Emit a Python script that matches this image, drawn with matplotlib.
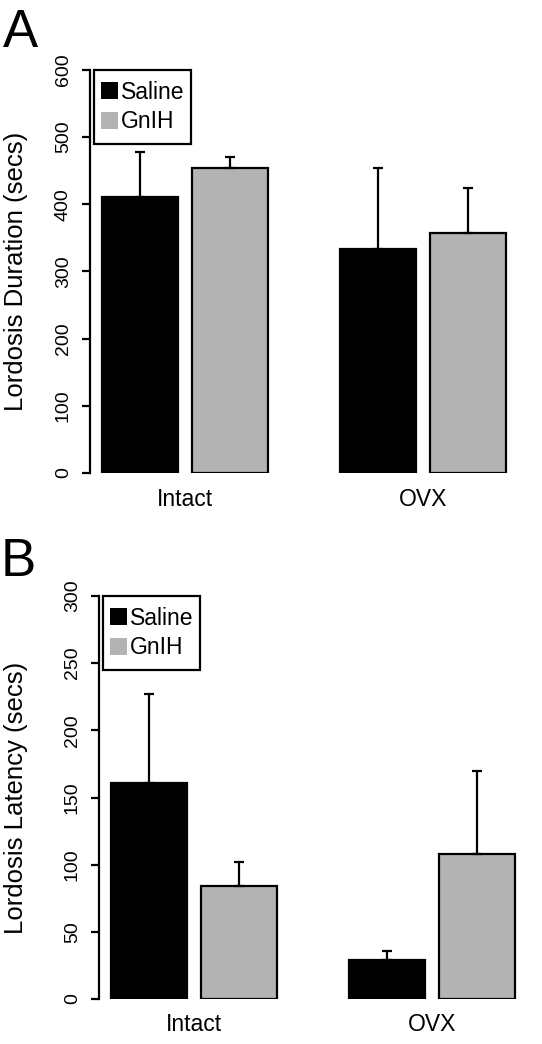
import matplotlib
matplotlib.use("Agg")
import matplotlib.pyplot as plt
from matplotlib.patches import Patch, Rectangle

plt.rcParams['font.family'] = ['Liberation Sans', 'DejaVu Sans']

groups = ["Intact", "OVX"]
treatments = ["Saline", "GnIH"]
colors = ["#000000", "#b3b3b3"]

duration_saline = [411, 333]
duration_gnih = [454, 357]
duration_saline_err = [67, 121]
duration_gnih_err = [16, 67]

latency_saline = [161, 29]
latency_gnih = [84, 108]
latency_saline_err = [66, 7]
latency_gnih_err = [18, 62]

W, H = 542, 1044
fig = plt.figure(figsize=(W / 100, H / 100), dpi=100)

# bar layout in bar-width units
group_left = [0.16, 3.29]
inner_gap = 0.18
xmax = 5.6


def panel(left_px, top_px, bottom_px, ymax, yticks, ylabel, sal, gn, sal_e, gn_e, letter, letter_xy, label_pad):
    unit = 76.0
    width_px = xmax * unit
    height_px = bottom_px - top_px
    ax = fig.add_axes([left_px / W, 1 - bottom_px / H, width_px / W, height_px / H])
    sal_x = [g + 0.5 for g in group_left]
    gn_x = [g + 1.5 + inner_gap for g in group_left]
    ax.bar(sal_x, sal, width=1.0, color=colors[0], edgecolor="black", linewidth=1.6, zorder=2)
    ax.bar(gn_x, gn, width=1.0, color=colors[1], edgecolor="black", linewidth=1.6, zorder=2)
    ax.errorbar(sal_x, sal, yerr=[[0] * len(sal), sal_e], fmt="none", ecolor="black",
                elinewidth=1.6, capsize=3.5, capthick=1.6, zorder=3)
    ax.errorbar(gn_x, gn, yerr=[[0] * len(gn), gn_e], fmt="none", ecolor="black",
                elinewidth=1.6, capsize=3.5, capthick=1.6, zorder=3)
    ax.set_xlim(0, xmax)
    ax.set_ylim(0, ymax)
    for s in ["top", "right", "bottom"]:
        ax.spines[s].set_visible(False)
    ax.spines["left"].set_linewidth(1.6)
    ax.spines["left"].set_bounds(0, ymax)
    ax.set_yticks(yticks)
    ax.set_yticklabels([str(t) for t in yticks], rotation=90, va="center", fontsize=14)
    ax.tick_params(axis="y", length=6, width=1.6, pad=7)
    centers = [(s + g) / 2 for s, g in zip(sal_x, gn_x)]
    ax.set_xticks(centers)
    ax.set_xticklabels(groups, fontsize=16.5)
    ax.tick_params(axis="x", length=0, pad=label_pad)
    ax.set_ylabel(ylabel, fontsize=18.5, va="center")
    ax.yaxis.set_label_coords(-(left_px - 16) / width_px, 0.5)
    # legend box
    bx0, bw, bh = 4 / width_px, 97 / width_px, 74 / height_px
    ax.add_patch(Rectangle((bx0, 1 - bh), bw, bh, transform=ax.transAxes, facecolor="white",
                           edgecolor="black", linewidth=1.6, zorder=4, clip_on=False))
    handles = [Patch(facecolor=colors[0], edgecolor="none"), Patch(facecolor=colors[1], edgecolor="none")]
    leg = ax.legend(handles, treatments, loc="center", bbox_to_anchor=(bx0 + bw / 2, 1 - bh / 2),
                    fontsize=16.5, frameon=False,
                    handlelength=0.75, handleheight=0.75, handletextpad=0.12,
                    borderpad=0.0, labelspacing=0.3, borderaxespad=0.0)
    leg.set_zorder(5)
    fig.text(letter_xy[0] / W, 1 - letter_xy[1] / H, letter, fontsize=38, ha="left", va="top")
    return ax


panel(90, 70, 473, 600, [0, 100, 200, 300, 400, 500, 600], "Lordosis Duration (secs)",
      duration_saline, duration_gnih, duration_saline_err, duration_gnih_err, "A", (3, 8), 11)
panel(99, 596, 999, 300, [0, 50, 100, 150, 200, 250, 300], "Lordosis Latency (secs)",
      latency_saline, latency_gnih, latency_saline_err, latency_gnih_err, "B", (1, 537), 10)

fig.savefig("out.png", dpi=100, facecolor="white")
